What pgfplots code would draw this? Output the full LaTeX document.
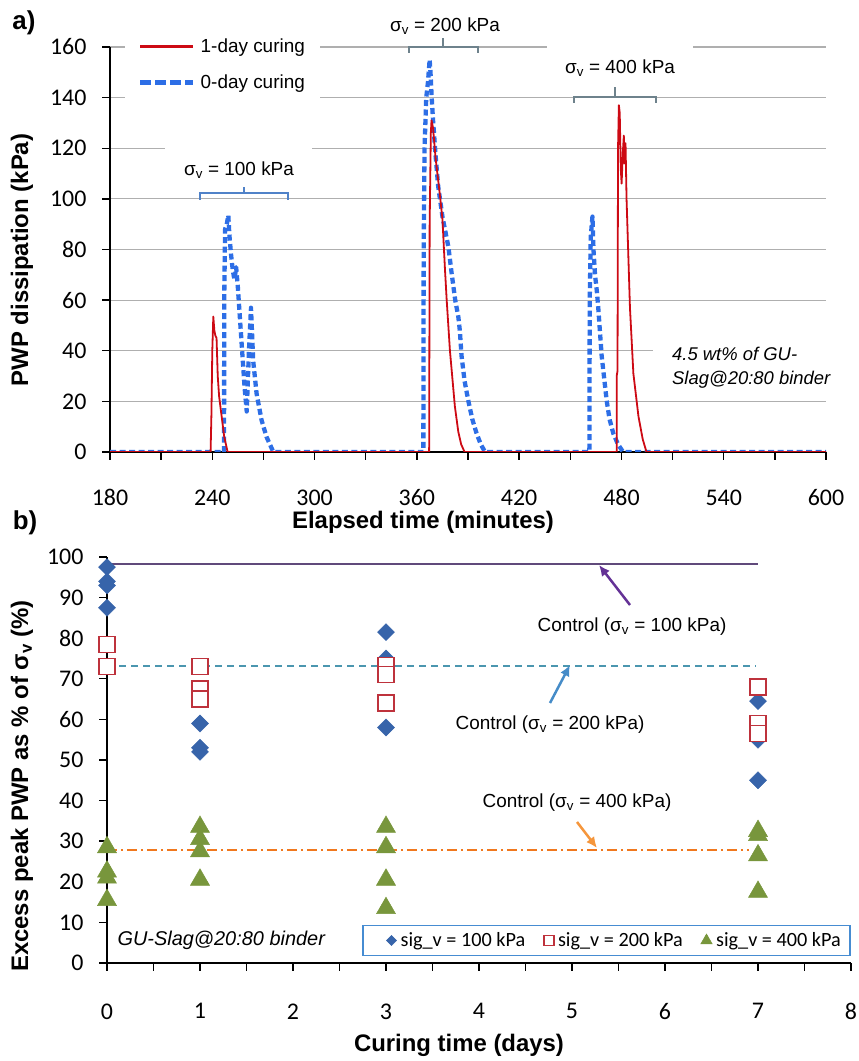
\documentclass[border=0pt]{standalone}
\usepackage{pgfplots}
\pgfplotsset{compat=1.18}
\usepackage{fontspec}
\setmainfont{Liberation Sans}
\newfontfamily\carlito{Carlito}
\usetikzlibrary{arrows.meta}
\definecolor{gridgray}{RGB}{175,175,175}
\definecolor{redA}{RGB}{205,10,20}
\definecolor{blueA}{RGB}{45,110,230}
\definecolor{diaB}{RGB}{55,100,170}
\definecolor{sqB}{RGB}{190,50,60}
\definecolor{triB}{RGB}{120,150,60}
\definecolor{ctlP}{RGB}{96,74,123}
\definecolor{ctlT}{RGB}{75,150,175}
\definecolor{ctlO}{RGB}{240,120,30}
\definecolor{arrP}{RGB}{100,50,150}
\definecolor{arrB}{RGB}{70,140,200}
\definecolor{arrO}{RGB}{245,150,60}
\definecolor{brB}{RGB}{80,130,200}
\definecolor{brG}{RGB}{110,130,140}
\definecolor{legB}{RGB}{70,140,210}
\begin{document}
\begin{tikzpicture}[x=1bp,y=1bp]
\useasboundingbox (0,0) rectangle (859,1061);
% ---------------- panel a ----------------
\begin{axis}[
  at={(110bp,609bp)}, anchor=south west,
  scale only axis, width=716bp, height=405bp,
  xmin=180, xmax=600, ymin=0, ymax=160,
  axis x line=bottom, axis y line=left,
  axis line style={-, line width=1.6bp, black},
  xtick={180,240,...,600}, minor xtick={210,270,...,570},
  ytick={0,20,...,160},
  tick align=outside, major tick length=8bp, minor tick length=8bp,
  every tick/.style={line width=1.4bp, black},
  ymajorgrids, grid style={gridgray, line width=1.2bp},
  /pgf/number format/assume math mode=true,
  tick label style={font=\carlito\fontsize{24}{24}\selectfont},
  xticklabel style={yshift=-26bp},
  yticklabel style={xshift=-12bp},
  legend style={at={(axis cs:188.5,166.5)}, anchor=north west, draw=none, fill=white,
    font=\fontsize{19}{19}\selectfont, inner xsep=13bp, inner ysep=6bp,
    row sep=17bp, /tikz/every odd column/.append style={column sep=3bp}},
  legend cell align=left,
  legend image code/.code={\draw[#1] (0bp,0bp) -- (53bp,0bp);},
]
\addlegendimage{redA, line width=3bp}
\addlegendentry{1-day curing}
\addlegendimage{blueA, line width=5bp, dash pattern=on 11bp off 4bp}
\addlegendentry{0-day curing}
% 0-day curing (blue dashed)
\addplot[forget plot, blueA, line width=4.3bp, dash pattern=on 6bp off 3.5bp, line join=round] coordinates {
(180,0) (246.9,0) (247,60) (247.5,88) (248.5,90) (249.4,93.5) (250,86) (251,78) (252,72) (253,68) (254,73) (255,65) (256.5,50) (258,35) (259,25) (260.2,16) (261.5,40) (262.7,57) (264,36) (266,23) (268.9,12.6) (271.8,6) (275.8,0)
(363.8,0) (364,80) (364.5,120) (365.5,140) (366.5,146) (367.5,155) (368,150) (368.7,140) (369.5,131) (371,117) (372.5,105) (375,93) (378.5,81) (380.4,70.6) (382.5,60) (384.3,53.5) (385.2,48) (386.2,38) (388,28) (390.1,20.5) (392.5,13) (395,7.4) (397.5,3) (400,0)
(461.2,0) (461.4,60) (462,85) (463,93) (463.6,80) (464.5,70) (465.5,64) (466.4,57) (468.4,38) (471.3,20.5) (473,13) (475.2,7.4) (478,3) (481,0) (600,0)};
% 1-day curing (red)
\addplot[forget plot, redA, line width=1.8bp, line join=round] coordinates {
(180,0) (239,0) (239.5,15) (240,40) (240.6,53.5) (241.2,48) (241.8,46) (242.5,45) (243.2,30) (244,22) (245.5,14) (247,6) (249,0)
(367.2,0) (367.5,90) (368.2,126) (368.6,131) (369.5,128) (371,116) (373.6,101) (375,92) (376.5,72) (377.5,60) (379.4,40) (382.3,18) (384.3,8) (386,3) (388,0)
(477.2,0) (477.2,30) (477.7,32) (478,120) (478.5,137) (479,134) (479.6,112) (480.1,106) (480.8,118) (481.4,125) (481.8,114) (482.4,122) (483,100) (485,57) (487,31) (490,14) (492.5,5) (494.7,0) (600,0)};
\end{axis}
% panel a annotations
\node[font=\bfseries\fontsize{26}{26}\selectfont] at (24,1038) {a)};
\node[rotate=90, font=\bfseries\fontsize{24}{24}\selectfont] at (22,801) {PWP dissipation (kPa)};
\node[font=\bfseries\fontsize{24}{24}\selectfont] at (423,539) {Elapsed time (minutes)};
\fill[white] (165,881) rectangle (312,917);
\node[font=\fontsize{19}{19}\selectfont] at (239,891) {σ\textsubscript{v} = 100 kPa};
\draw[brB, line width=1.3bp] (200,861) -- (200,868) -- (288,868) -- (288,861) (244,868) -- (244,874);
\node[font=\fontsize{19}{19}\selectfont] at (445,1035) {σ\textsubscript{v} = 200 kPa};
\draw[brG, line width=1.3bp] (409,1008) -- (409,1014) -- (478,1014) -- (478,1008) (443,1014) -- (443,1023);
\fill[white] (547,973) rectangle (693,1021);
\node[font=\fontsize{19}{19}\selectfont] at (620,993) {σ\textsubscript{v} = 400 kPa};
\draw[brG, line width=1.3bp] (574,958) -- (574,964) -- (656,964) -- (656,958) (615,964) -- (615,974);
\fill[white] (653,664) rectangle (830,719);
\node[anchor=west, align=left, font=\itshape\fontsize{18.5}{24}\selectfont, inner sep=0pt] at (672,693) {4.5 wt\% of GU-\\Slag@20:80 binder};
% ---------------- panel b ----------------
\begin{axis}[
  at={(107bp,98bp)}, anchor=south west,
  scale only axis, width=744bp, height=406bp,
  xmin=0, xmax=8, ymin=0, ymax=100,
  axis x line=bottom, axis y line=left,
  axis line style={-, line width=1.6bp, black},
  xtick={0,1,...,8}, minor xtick={0.5,1.5,...,7.5},
  ytick={0,10,...,100},
  tick align=outside, major tick length=8bp, minor tick length=8bp,
  every tick/.style={line width=1.4bp, black},
  clip=false,
  /pgf/number format/assume math mode=true,
  tick label style={font=\carlito\fontsize{24}{24}\selectfont},
  xticklabel style={yshift=-29bp},
  yticklabel style={xshift=-12bp},
  legend style={at={(axis cs:2.742,9.36)}, anchor=north west, draw=legB, line width=1.5bp, fill=white,
    font=\carlito\fontsize{20.3}{20.3}\selectfont, inner xsep=7bp, inner ysep=5bp,
    /tikz/every odd column/.append style={column sep=2bp},
    /tikz/every even column/.append style={column sep=0bp}},
  legend columns=3,
  legend image code/.code={\path (0bp,0bp); \draw[#1] plot coordinates {(21bp,0bp)};},
]
\addlegendimage{diaB, only marks, mark=square*, mark size=3.6bp, mark options={rotate=45, fill=diaB, draw=diaB, line width=0.5bp}}
\addlegendentry{sig\_v = 100 kPa}
\addlegendimage{sqB, only marks, mark=square, mark size=5bp, mark options={draw=sqB, fill=white, line width=1.2bp}}
\addlegendentry{sig\_v = 200 kPa}
\addlegendimage{triB, only marks, mark=triangle*, mark size=6.5bp, mark options={fill=triB, draw=triB, line width=0.5bp}}
\addlegendentry{sig\_v = 400 kPa}
\addplot[forget plot, only marks, mark=square*, mark size=6bp, mark options={rotate=45, fill=diaB, draw=diaB, line width=0.5bp}] coordinates {
(0,97.5)(0,94)(0,93)(0,87.5)(1,59)(1,53)(1,52)(3,81.5)(3,75)(3,58)(7,64.5)(7,55)(7,45)};
\addplot[forget plot, only marks, mark=square*, mark size=8bp, mark options={draw=sqB, fill=white, line width=1.5bp}] coordinates {
(0,78.5)(0,73)(1,73)(1,67.5)(1,65)(3,73.3)(3,71)(3,64)(7,68)(7,59)(7,56.5)};
\addplot[forget plot, only marks, mark=triangle*, mark size=11bp, mark options={fill=triB, draw=triB, line width=0.5bp}] coordinates {
(0,28.5)(0,22.5)(0,21)(0,15.5)(1,33.5)(1,30.5)(1,27.5)(1,20.5)(3,33.5)(3,28.5)(3,20.5)(3,13.5)(7,32.5)(7,31.5)(7,26.5)(7,17.5)};
\addplot[forget plot, ctlP, line width=1.4bp] coordinates {(0,98.3) (7,98.3)};
\addplot[forget plot, ctlT, line width=1.4bp, dash pattern=on 7bp off 5bp] coordinates {(0,73.2) (6.97,73.2)};
\addplot[forget plot, ctlO, line width=1.5bp, dash pattern=on 10bp off 4bp on 2bp off 4bp] coordinates {(0,27.8) (6.9,27.8)};
\end{axis}
\node[font=\bfseries\fontsize{26}{26}\selectfont] at (25,538) {b)};
\node[rotate=90, font=\bfseries\fontsize{24}{24}\selectfont] at (22,275) {Excess peak PWP as \% of σ\textsubscript{v} (\%)};
\node[font=\bfseries\fontsize{24}{24}\selectfont] at (459,16) {Curing time (days)};
\node[font=\fontsize{19}{19}\selectfont] at (632,434) {Control (σ\textsubscript{v} = 100 kPa)};
\node[font=\fontsize{19}{19}\selectfont] at (550,336) {Control (σ\textsubscript{v} = 200 kPa)};
\node[font=\fontsize{19}{19}\selectfont] at (577,258) {Control (σ\textsubscript{v} = 400 kPa)};
\draw[arrP, line width=2.5bp, -{Latex[length=11bp,width=10bp]}] (630,456) -- (599,496);
\draw[arrB, line width=2.5bp, -{Latex[length=11bp,width=10bp]}] (550,358) -- (570,396);
\draw[arrO, line width=2.5bp, -{Latex[length=11bp,width=10bp]}] (577,239) -- (597,213);
\node[anchor=west, font=\itshape\fontsize{20}{20}\selectfont] at (114,121) {GU-Slag@20:80 binder};
\end{tikzpicture}
\end{document}
